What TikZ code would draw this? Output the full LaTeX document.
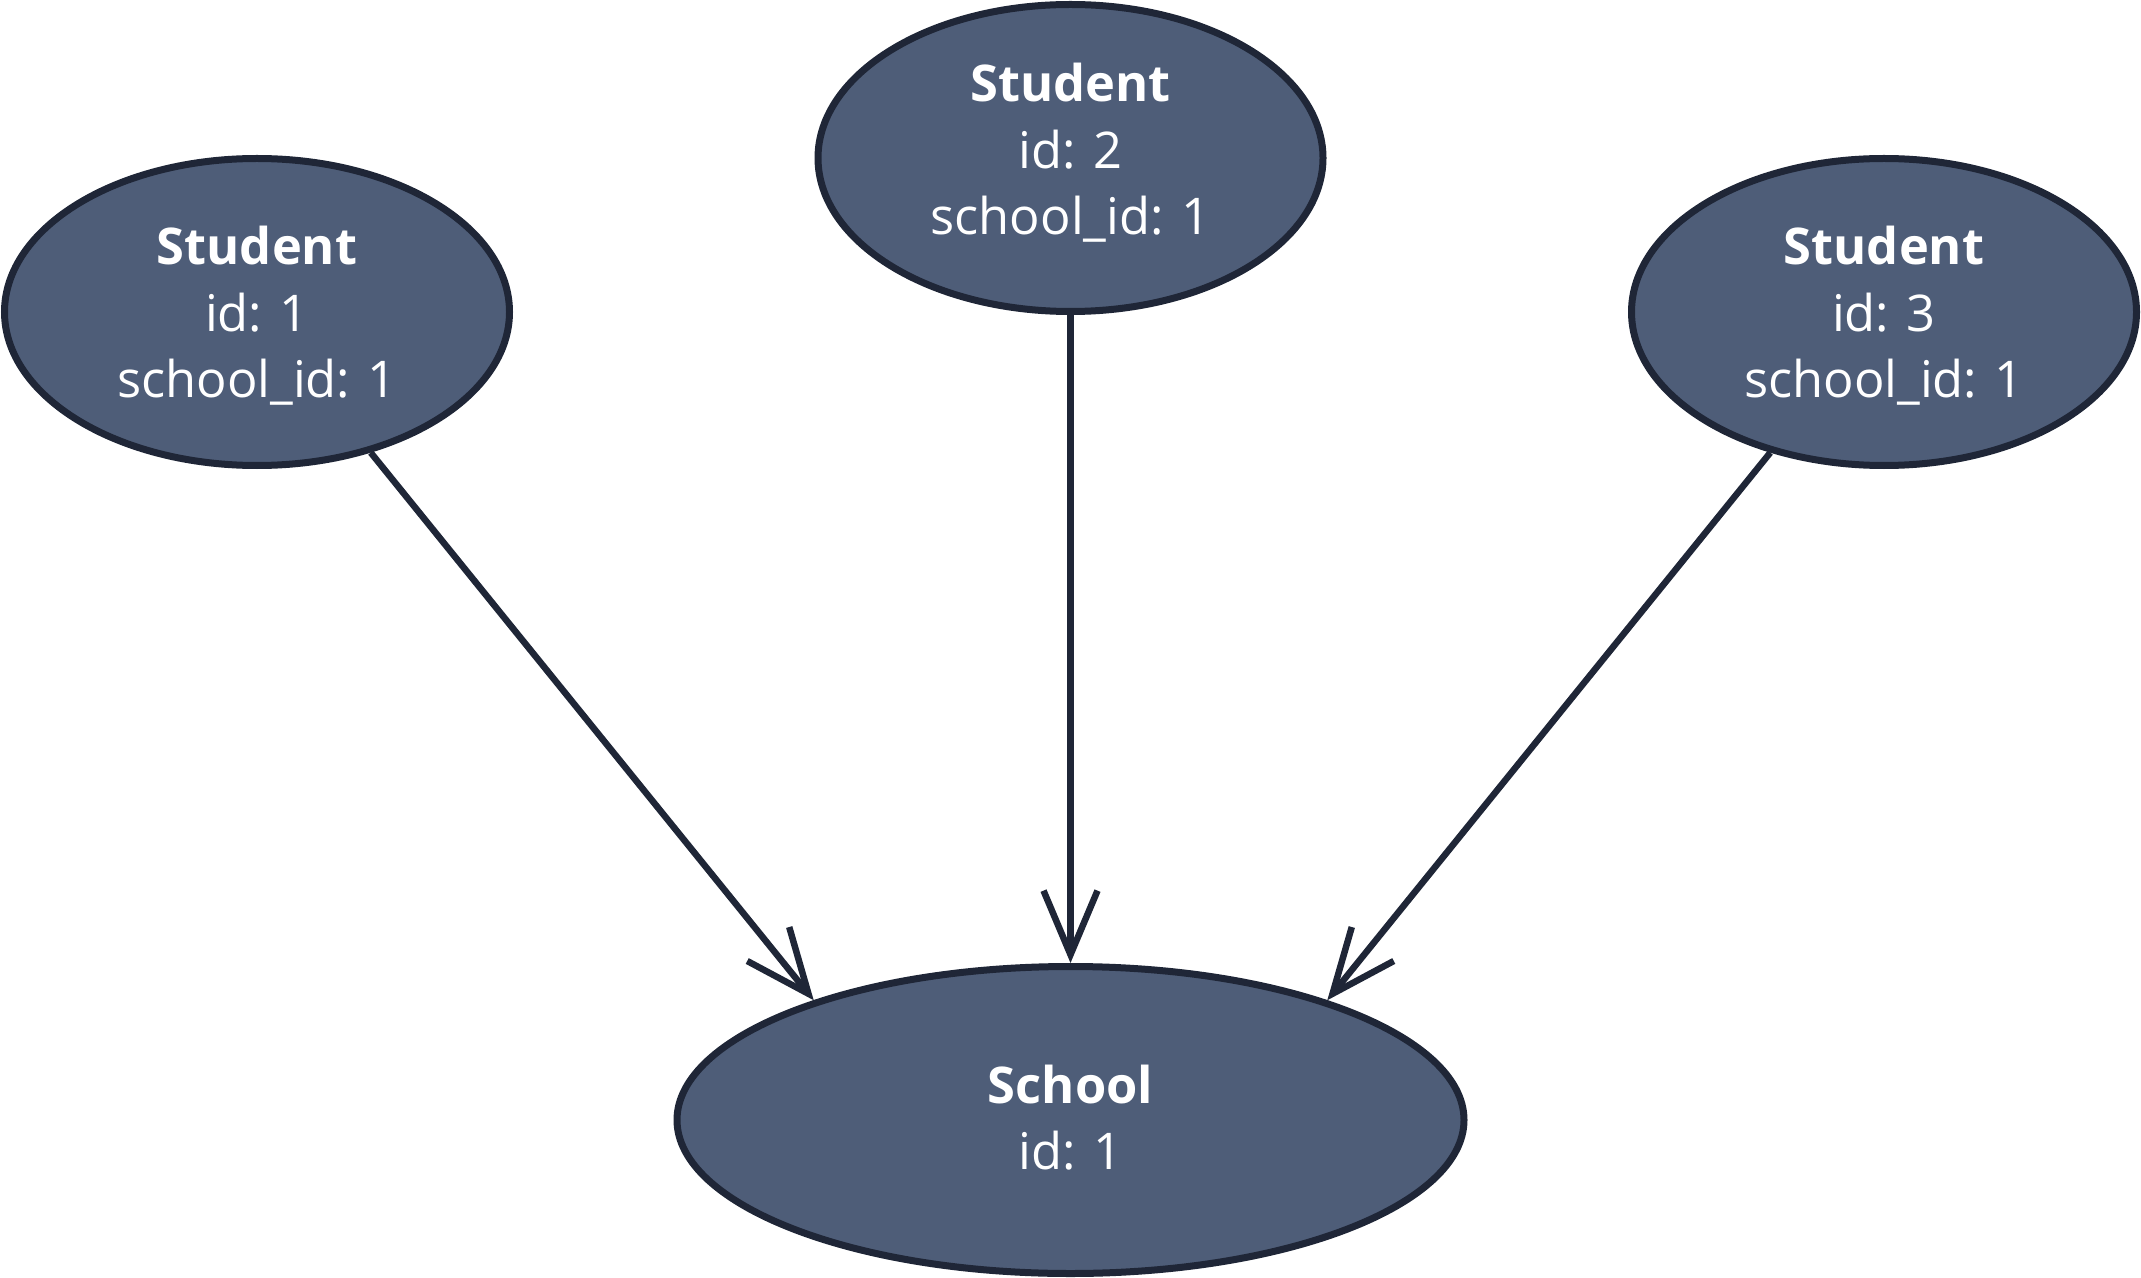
\documentclass[tikz,border=0pt]{standalone}
\usepackage{fontspec}
\setmainfont{Open Sans}
\usetikzlibrary{shapes.geometric,arrows.meta}
\definecolor{entfill}{HTML}{4E5D78}
\definecolor{entline}{HTML}{1F2637}
\begin{document}
\begin{tikzpicture}[x=0.5pt,y=-0.5pt,
  ent/.style={ellipse, draw=entline, fill=entfill, line width=3.5pt, inner sep=0pt,
    text=white, font=\fontsize{25.3}{33.25}\selectfont,
    minimum width=252.5pt, minimum height=153.5pt},
  bigent/.style={ent, minimum width=393.5pt},
  edge/.style={draw=entline, line width=3.25pt, -{Straight Barb[length=32pt,width=27pt]}}]
\useasboundingbox (0,0) rectangle (2141,1278);
\node[ent] (s1) at (257,312) {\raisebox{0pt}[20pt][67pt]{\begin{tabular}[t]{@{}c@{}}\textbf{Student}\\id: 1\\school\_id: 1\end{tabular}}};
\node[ent] (s2) at (1070.5,158) {\raisebox{0pt}[20pt][76pt]{\begin{tabular}[t]{@{}c@{}}\textbf{Student}\\id: 2\\school\_id: 1\end{tabular}}};
\node[ent] (s3) at (1884,312) {\raisebox{0pt}[20pt][67pt]{\begin{tabular}[t]{@{}c@{}}\textbf{Student}\\id: 3\\school\_id: 1\end{tabular}}};
\node[bigent] (school) at (1070.5,1120) {\raisebox{0pt}[20pt][37pt]{\begin{tabular}[t]{@{}c@{}}\textbf{School}\\id: 1\end{tabular}}};
\draw[edge] (s1) -- (school.155);
\draw[edge] (s2) -- (school);
\draw[edge] (s3) -- (school.25);
\end{tikzpicture}
\end{document}
